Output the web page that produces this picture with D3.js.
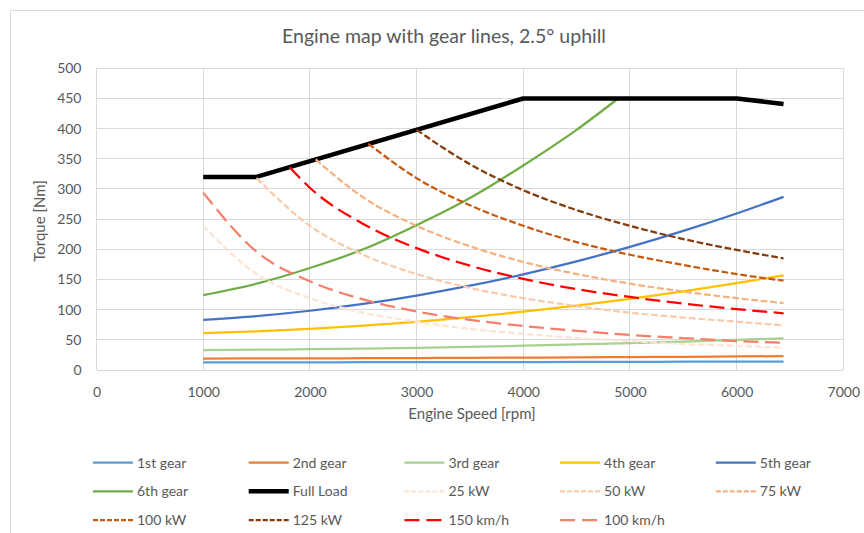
<!DOCTYPE html>
<html lang="en">
<meta charset="utf-8"/>
<head>
<script src="https://d3js.org/d3.v7.min.js"></script>
</head>
<style>
  body { margin: 0; background: #fff; }
  text { font-family: Lato, "Open Sans", sans-serif; fill: #595959; }
  .grid line { stroke: #d9d9d9; stroke-width: 1; shape-rendering: crispEdges; }
  .axis path, .axis line { display: none; }
  .axis text { font-size: 14px; fill: #595959; }
</style>
<body>
<script>
// engine speed samples [rpm]
var rpm = [1000, 1500, 2000, 2500, 3000, 3500, 4000, 4500, 5000, 5500, 6000, 6440];

// gear lines [Nm]
var gear1 = [12.7, 12.8, 12.8, 12.9, 13.0, 13.1, 13.2, 13.3, 13.5, 13.7, 13.9, 14.0];
var gear2 = [19.0, 19.1, 19.3, 19.5, 19.8, 20.1, 20.5, 20.9, 21.4, 21.9, 22.5, 23.0];
var gear3 = [33.0, 33.6, 34.4, 35.5, 36.8, 38.4, 40.2, 42.3, 44.5, 47.1, 49.9, 52.5];
var gear4 = [61.0, 63.9, 68.1, 73.4, 79.9, 87.7, 96.6, 106.6, 117.9, 130.4, 144.0, 157.0];
var gear5 = [83.0, 89.3, 98.2, 109.5, 123.4, 139.7, 158.6, 180.1, 204.0, 230.5, 259.4, 287.0];
var gear6Rpm = [1000, 1500, 2000, 2500, 3000, 3500, 4000, 4500, 4890];
var gear6 = [124, 143, 169, 200, 240, 285, 339, 398, 450];

// full load curve
var fullLoadRpm = [1000, 1500, 4000, 6000, 6440];
var fullLoad = [320, 320, 450, 450, 441];

// constant power lines
var kw25 = [239, 159, 119, 95, 80, 68, 60, 53, 48, 43, 40, 37];
var kw50Rpm = [1500, 2000, 2500, 3000, 3500, 4000, 4500, 5000, 5500, 6000, 6440];
var kw50 = [318, 239, 191, 159, 136, 119, 106, 95, 87, 80, 74];
var kw75Rpm = [2054, 2500, 3000, 3500, 4000, 4500, 5000, 5500, 6000, 6440];
var kw75 = [349, 286, 239, 205, 179, 159, 143, 130, 119, 111];
var kw100Rpm = [2549, 3000, 3500, 4000, 4500, 5000, 5500, 6000, 6440];
var kw100 = [375, 318, 273, 239, 212, 191, 174, 159, 148];
var kw125Rpm = [3000, 3500, 4000, 4500, 5000, 5500, 6000, 6440];
var kw125 = [398, 341, 298, 265, 239, 217, 199, 185];

// vehicle speed lines
var kmh150Rpm = [1810, 2000, 2500, 3000, 3500, 4000, 4500, 5000, 5500, 6000, 6440];
var kmh150 = [336, 302, 242, 202, 173, 151, 134, 121, 110, 101, 94];
var kmh100 = [294, 196, 147, 117, 97, 83, 73, 65, 58, 53, 48, 45];

var xTicks = [0, 1000, 2000, 3000, 4000, 5000, 6000, 7000];
var yTicks = [0, 50, 100, 150, 200, 250, 300, 350, 400, 450, 500];

var series = [
  {name: "1st gear", x: rpm, y: gear1, color: "#5B9BD5", w: 2.25, dash: null},
  {name: "2nd gear", x: rpm, y: gear2, color: "#ED7D31", w: 2.25, dash: null},
  {name: "3rd gear", x: rpm, y: gear3, color: "#A9D18E", w: 2.25, dash: null},
  {name: "4th gear", x: rpm, y: gear4, color: "#FFC000", w: 2.25, dash: null},
  {name: "5th gear", x: rpm, y: gear5, color: "#4472C4", w: 2.25, dash: null},
  {name: "6th gear", x: gear6Rpm, y: gear6, color: "#70AD47", w: 2.25, dash: null},
  {name: "Full Load", x: fullLoadRpm, y: fullLoad, color: "#000000", w: 4.5, dash: null, linear: true},
  {name: "25 kW", x: rpm, y: kw25, color: "#FBE5D6", w: 2.25, dash: "6.75,2.75"},
  {name: "50 kW", x: kw50Rpm, y: kw50, color: "#F8CBAD", w: 2.25, dash: "6.75,2.75"},
  {name: "75 kW", x: kw75Rpm, y: kw75, color: "#F4B183", w: 2.25, dash: "6.75,2.75"},
  {name: "100 kW", x: kw100Rpm, y: kw100, color: "#C55A11", w: 2.25, dash: "6.75,2.75"},
  {name: "125 kW", x: kw125Rpm, y: kw125, color: "#843C0C", w: 2.25, dash: "6.75,2.75"},
  {name: "150 km/h", x: kmh150Rpm, y: kmh150, color: "#FF0000", w: 2.25, dash: "15,6.5"},
  {name: "100 km/h", x: rpm, y: kmh100, color: "#F4806C", w: 2.25, dash: "15,6.5"}
];

var W = 864, H = 533;
var svg = d3.select("body").append("svg")
    .attr("width", W)
    .attr("height", H);

svg.append("rect")
    .attr("x", 10.5).attr("y", 10.5)
    .attr("width", 880).attr("height", 560)
    .attr("fill", "#fff")
    .attr("stroke", "#d9d9d9");

var x = d3.scaleLinear().domain([0, 7000]).range([96.5, 843.3]);
var y = d3.scaleLinear().domain([0, 500]).range([370, 68.3]);

// gridlines
var grid = svg.append("g").attr("class", "grid");
grid.selectAll(".h").data(yTicks).enter().append("line")
    .attr("x1", x(0)).attr("x2", x(7000))
    .attr("y1", function(d) { return y(d); })
    .attr("y2", function(d) { return y(d); });
grid.selectAll(".v").data(xTicks).enter().append("line")
    .attr("y1", y(0)).attr("y2", y(500))
    .attr("x1", function(d) { return x(d); })
    .attr("x2", function(d) { return x(d); });

// axes (labels only)
svg.append("g")
    .attr("class", "axis")
    .attr("transform", "translate(0," + (y(0) + 14) + ")")
    .call(d3.axisBottom(x).tickValues(xTicks).tickSize(0).tickFormat(d3.format("d")));
svg.append("g")
    .attr("class", "axis")
    .attr("transform", "translate(" + (x(0) - 12) + ",0)")
    .call(d3.axisLeft(y).tickValues(yTicks).tickSize(0));

svg.append("text")
    .attr("x", 444).attr("y", 43)
    .attr("text-anchor", "middle")
    .style("font-size", "19.5px")
    .text("Engine map with gear lines, 2.5° uphill");

svg.append("text")
    .attr("x", 472).attr("y", 419)
    .attr("text-anchor", "middle")
    .style("font-size", "15px")
    .text("Engine Speed [rpm]");

svg.append("text")
    .attr("transform", "translate(45,221) rotate(-90)")
    .attr("text-anchor", "middle")
    .style("font-size", "15px")
    .text("Torque [Nm]");

// series
var smooth = d3.line()
    .x(function(d) { return x(d[0]); })
    .y(function(d) { return y(d[1]); })
    .curve(d3.curveMonotoneX);
var straight = d3.line()
    .x(function(d) { return x(d[0]); })
    .y(function(d) { return y(d[1]); });

series.forEach(function(s) {
  var pts = s.x.map(function(v, i) { return [v, s.y[i]]; });
  svg.append("path")
      .attr("d", (s.linear ? straight : smooth)(pts))
      .attr("fill", "none")
      .attr("stroke", s.color)
      .attr("stroke-width", s.w)
      .attr("stroke-linejoin", "round")
      .attr("stroke-dasharray", s.dash);
});

// legend
var legend = svg.append("g");
series.forEach(function(s, i) {
  var col = i % 5, row = Math.floor(i / 5);
  var lx = 93 + col * 155.7, ly = 462.5 + row * 28.8;
  legend.append("line")
      .attr("x1", lx).attr("x2", lx + 40)
      .attr("y1", ly).attr("y2", ly)
      .attr("stroke", s.color)
      .attr("stroke-width", s.w)
      .attr("stroke-dasharray", s.dash ? (s.dash === "15,6.5" ? "15,7" : "5,2") : null);
  legend.append("text")
      .attr("x", lx + 44).attr("y", ly + 5)
      .style("font-size", "14px")
      .text(s.name);
});
</script>
</body>
</html>
